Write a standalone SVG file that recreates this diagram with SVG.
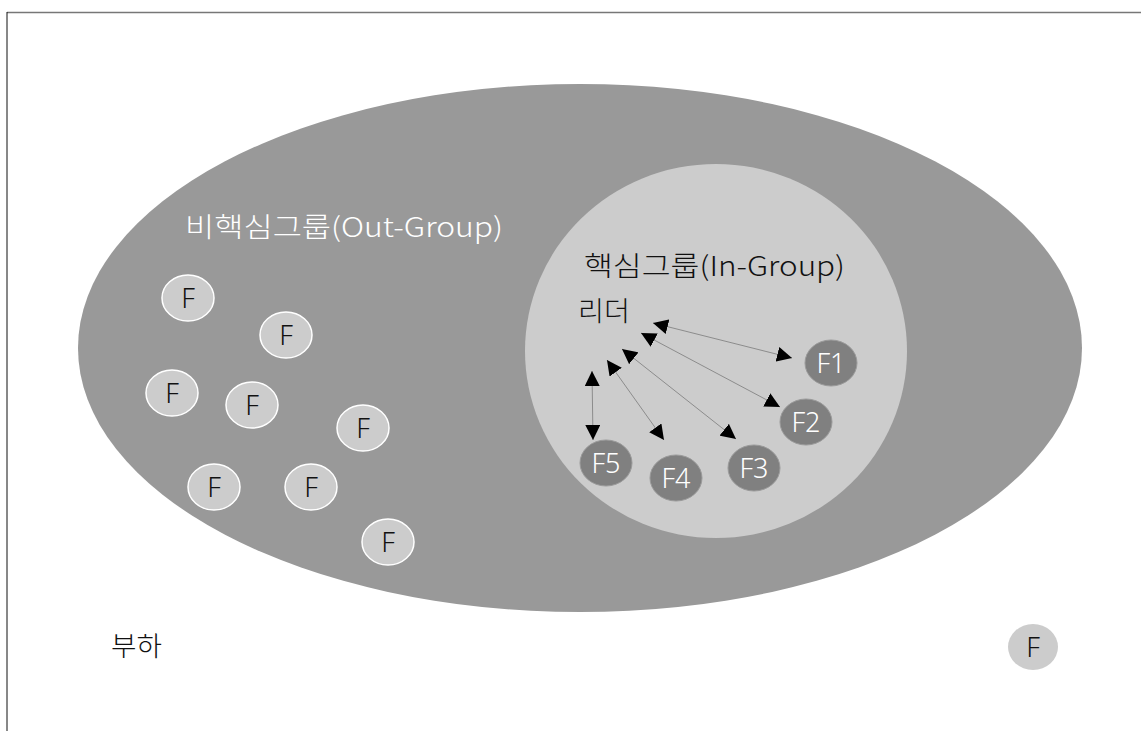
<svg xmlns="http://www.w3.org/2000/svg" width="1141" height="731" viewBox="0 0 1141 731">
<defs>
<marker id="ah" viewBox="0 0 10 10" refX="10" refY="5" markerWidth="15" markerHeight="15" markerUnits="userSpaceOnUse" orient="auto-start-reverse">
<path d="M0,0 L10,5 L0,10 z" fill="#000"/>
</marker>
<style>
.lbl{font-family:"Noto Sans CJK KR","Noto Sans",sans-serif;font-size:27px;font-weight:300}
.out{fill:#cccccc;stroke:#ffffff;stroke-width:1.5}
.in{fill:#808080;stroke:#9a9a9a;stroke-width:1}
.ft{font-family:"Noto Sans","Noto Sans CJK KR",sans-serif;font-size:27px;font-weight:300;text-anchor:middle;fill:#111}
.fti{font-family:"Noto Sans","Noto Sans CJK KR",sans-serif;font-size:27px;font-weight:300;text-anchor:middle;fill:#fff}
.con{stroke:#8c8c8c;stroke-width:1;fill:none;marker-start:url(#ah);marker-end:url(#ah)}
</style>
</defs>
<rect width="1141" height="731" fill="#fff"/>
<g id="frame" fill="none">
<line x1="7" y1="12.5" x2="1141" y2="12.5" stroke="#777" stroke-width="1.5"/>
<line x1="7" y1="12" x2="7" y2="731" stroke="#111" stroke-width="1"/>
</g>
<g id="outgroup">
<ellipse cx="580" cy="348" rx="502" ry="264" fill="#999999"/>
<text class="lbl" x="185" y="237" fill="#fff" textLength="318" lengthAdjust="spacingAndGlyphs">비핵심그룹(Out-Group)</text>
</g>
<g id="ingroup">
<ellipse cx="716" cy="351" rx="191" ry="187" fill="#cccccc"/>
<text class="lbl" x="584" y="276" fill="#111" textLength="261" lengthAdjust="spacingAndGlyphs">핵심그룹(In-Group)</text>
</g>
<g id="leader"><text class="lbl" x="578" y="321" fill="#111" textLength="52" lengthAdjust="spacingAndGlyphs">리더</text></g>
<g id="subordinate"><text class="lbl" x="111" y="656" fill="#111" textLength="51" lengthAdjust="spacingAndGlyphs">부하</text></g>
<g id="out-f1"><ellipse class="out" cx="188" cy="298" rx="26" ry="23"/><text class="ft" x="188" y="308">F</text></g>
<g id="out-f2"><ellipse class="out" cx="286" cy="335" rx="26" ry="23"/><text class="ft" x="286" y="345">F</text></g>
<g id="out-f3"><ellipse class="out" cx="172" cy="393" rx="26" ry="23"/><text class="ft" x="172" y="403">F</text></g>
<g id="out-f4"><ellipse class="out" cx="252" cy="405" rx="26" ry="23"/><text class="ft" x="252" y="415">F</text></g>
<g id="out-f5"><ellipse class="out" cx="363" cy="428" rx="26" ry="23"/><text class="ft" x="363" y="438">F</text></g>
<g id="out-f6"><ellipse class="out" cx="214" cy="487" rx="26" ry="23"/><text class="ft" x="214" y="497">F</text></g>
<g id="out-f7"><ellipse class="out" cx="311" cy="487" rx="26" ry="23"/><text class="ft" x="311" y="497">F</text></g>
<g id="out-f8"><ellipse class="out" cx="388" cy="542" rx="26" ry="23"/><text class="ft" x="388" y="552">F</text></g>
<g id="alone-f"><ellipse cx="1033" cy="647" rx="25" ry="23" fill="#cccccc"/><text class="ft" x="1033" y="657">F</text></g>
<g id="in-F1"><ellipse class="in" cx="831" cy="363" rx="26" ry="23"/><text class="fti" x="831" y="373">F1</text></g>
<g id="in-F2"><ellipse class="in" cx="806" cy="422" rx="26" ry="23"/><text class="fti" x="806" y="432">F2</text></g>
<g id="in-F3"><ellipse class="in" cx="754" cy="468" rx="26" ry="23"/><text class="fti" x="754" y="478">F3</text></g>
<g id="in-F4"><ellipse class="in" cx="676" cy="478" rx="26" ry="23"/><text class="fti" x="676" y="488">F4</text></g>
<g id="in-F5"><ellipse class="in" cx="606" cy="463" rx="26" ry="23"/><text class="fti" x="606" y="473">F5</text></g>
<g id="connectors">
<line class="con" x1="653" y1="323" x2="792" y2="358"/>
<line class="con" x1="641" y1="333" x2="780" y2="407"/>
<line class="con" x1="622" y1="349" x2="736" y2="439"/>
<line class="con" x1="607" y1="360" x2="664" y2="440"/>
<line class="con" x1="592" y1="371" x2="593" y2="440"/>
</g>
</svg>
